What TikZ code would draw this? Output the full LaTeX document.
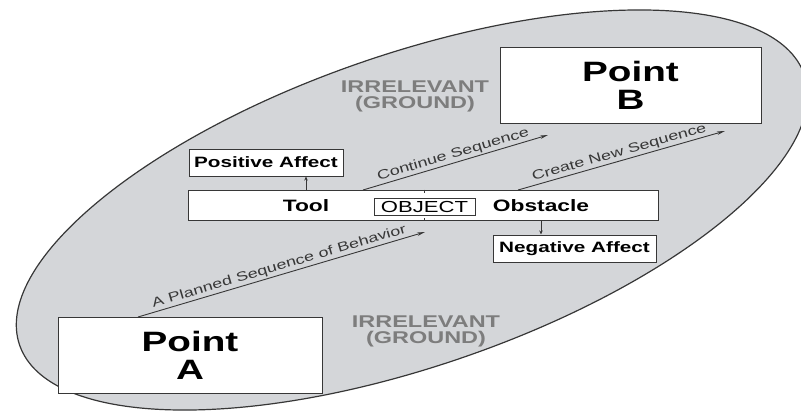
\documentclass[tikz,border=0pt]{standalone}
\usepackage{fontspec}
\setmainfont{Liberation Sans}
\newfontfamily\widesf[FakeStretch=1.38]{Liberation Sans}
\usetikzlibrary{arrows.meta}
\definecolor{ground}{RGB}{212,214,217}
\definecolor{edge}{RGB}{55,55,55}
\definecolor{irrgray}{RGB}{125,125,125}

\begin{document}
\begin{tikzpicture}[x=1pt,y=-1pt,
    box/.style={draw=edge,line width=1pt,fill=white,inner sep=0pt},
    seq/.style={draw=edge,line width=0.9pt,-{Stealth[length=8pt,width=3.5pt]}},
    seqlbl/.style={font=\widesf\fontsize{13}{13}\selectfont,text=edge,inner sep=1.5pt,sloped,above,midway},
    aff/.style={draw=edge,line width=0.8pt,-{Stealth[length=4pt,width=3.5pt]}},
    irr/.style={font=\widesf\bfseries\fontsize{17}{16}\selectfont,text=irrgray,align=center}]
    \useasboundingbox (0,0) rectangle (801,412);
    \draw[edge,line width=1.2pt,fill=ground,rotate around={19:(412,210)}] (412,210) ellipse [x radius=415,y radius=156];
    % the two end points
    \node[box,minimum width=264pt,minimum height=76pt,align=center,font=\widesf\bfseries\fontsize{28}{28}\selectfont] (pointA) at (190,355) {Point\\A};
    \node[box,minimum width=261pt,minimum height=75pt,align=center,font=\widesf\bfseries\fontsize{28}{28}\selectfont] (pointB) at (630.5,85.5) {Point\\B};
    % the object bar
    \node[box,minimum width=470pt,minimum height=30pt] (bar) at (423,205) {};
    \node[box,minimum width=101pt,minimum height=17pt,font=\widesf\fontsize{16}{16}\selectfont] (object) at (424.5,206.5) {OBJECT};
    \node[font=\widesf\bfseries\fontsize{16.5}{16}\selectfont] (tool) at (306,206) {Tool};
    \node[font=\widesf\bfseries\fontsize{16.5}{16}\selectfont] (obstacle) at (541,206) {Obstacle};
    \draw[edge,line width=0.8pt] (object.north |- bar.north) -- ++(0,3) (object.south |- bar.south) -- ++(0,-3);
    \node[box,minimum width=154pt,minimum height=27pt,font=\widesf\bfseries\fontsize{15}{15}\selectfont] (posaff) at (266,162.5) {Positive Affect};
    \node[box,minimum width=163pt,minimum height=27pt,font=\widesf\bfseries\fontsize{15}{15}\selectfont] (negaff) at (574.5,248.5) {Negative Affect};
    \draw[aff] (tool |- bar.north) -- (tool |- posaff.south);
    \draw[aff] (obstacle |- bar.south) -- (obstacle |- negaff.north);
    % sequences
    \coordinate (planS) at (138,317); \coordinate (planE) at (425,232);
    \coordinate (contS) at (363,190); \coordinate (contE) at (548,135);
    \coordinate (creaS) at (518,190); \coordinate (creaE) at (725,131);
    \draw[seq] (planS) -- node[seqlbl] {A Planned Sequence of Behavior} (planE);
    \draw[seq] (contS) -- node[seqlbl] {Continue Sequence} (contE);
    \draw[seq] (creaS) -- node[seqlbl] {Create New Sequence} (creaE);
    \node[irr] (irrtop) at (415,96) {IRRELEVANT\\(GROUND)};
    \node[irr] (irrbot) at (426,331) {IRRELEVANT\\(GROUND)};
\end{tikzpicture}
\end{document}
